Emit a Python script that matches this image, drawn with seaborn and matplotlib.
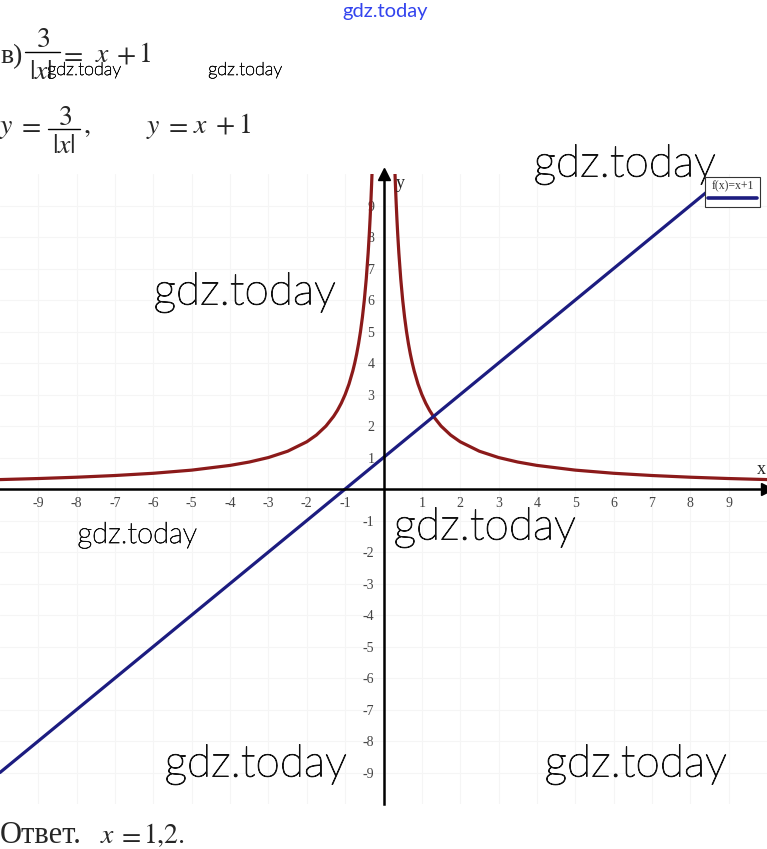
import matplotlib
matplotlib.use("Agg")
import matplotlib.pyplot as plt
import matplotlib.patheffects as pe
import seaborn as sns
import pandas as pd
from matplotlib.lines import Line2D

# ---- data ----
hyp_left_x = [-10, -9, -8, -7, -6, -5, -4, -3.5, -3, -2.5, -2, -1.75, -1.5, -1.3, -1.2, -1.1, -1.0,
              -0.9, -0.8, -0.75, -0.7, -0.65, -0.6, -0.55, -0.5, -0.45, -0.4, -0.37, -0.35, -0.33, -0.31, -0.3]
hyp_left_y = [0.30, 0.333, 0.375, 0.429, 0.50, 0.60, 0.75, 0.857, 1.0, 1.2, 1.5, 1.714, 2.0, 2.308, 2.5, 2.727, 3.0,
              3.333, 3.75, 4.0, 4.286, 4.615, 5.0, 5.455, 6.0, 6.667, 7.5, 8.108, 8.571, 9.091, 9.677, 10.0]
hyp_right_x = [-v for v in hyp_left_x]
hyp_right_y = list(hyp_left_y)
line_x = [-10, 8.5]
line_y = [-9, 9.5]
ticks = [-9, -8, -7, -6, -5, -4, -3, -2, -1, 1, 2, 3, 4, 5, 6, 7, 8, 9]
tick_labels = [str(t) for t in ticks]
legend_label = "f(x)=x+1"
watermark = "gdz.today"

RED = "#8b1a1a"
BLUE = "#1c1c80"
W, H = 767, 849

sns.set_style("white")
plt.rcParams["mathtext.fontset"] = "stix"
plt.rcParams["font.family"] = ["Liberation Serif", "DejaVu Serif"]

fig = plt.figure(figsize=(W / 100, H / 100), dpi=100)
ax = fig.add_axes([0.0, 0.053, 1.0, 0.742])

df_l = pd.DataFrame({"x": hyp_left_x, "y": hyp_left_y})
df_r = pd.DataFrame({"x": hyp_right_x, "y": hyp_right_y})
df_line = pd.DataFrame({"x": line_x, "y": line_y})

sns.lineplot(data=df_l, x="x", y="y", ax=ax, color=RED, linewidth=2.3, zorder=3)
sns.lineplot(data=df_r, x="x", y="y", ax=ax, color=RED, linewidth=2.3, zorder=3)
sns.lineplot(data=df_line, x="x", y="y", ax=ax, color=BLUE, linewidth=2.3, zorder=4)
blue_handle = ax.get_lines()[-1]

ax.set_xlim(-10, 10)
ax.set_ylim(-10, 10)
ax.set_xlabel("")
ax.set_ylabel("")

for s in ["top", "right"]:
    ax.spines[s].set_visible(False)
ax.spines["left"].set_position(("data", 0))
ax.spines["bottom"].set_position(("data", 0))
for s in ["left", "bottom"]:
    ax.spines[s].set_linewidth(1.8)
    ax.spines[s].set_color("black")
    ax.spines[s].set_zorder(5)

ax.set_xticks(ticks)
ax.set_xticklabels(tick_labels)
ax.set_yticks(ticks)
ax.set_yticklabels(tick_labels)
ax.tick_params(axis="both", direction="inout", length=11, width=1.2, color="black",
               labelsize=10, labelcolor="#444444")
ax.tick_params(axis="x", pad=0)
ax.tick_params(axis="y", pad=1)

ax.grid(True, color="#f5f5f5", linewidth=0.8)
ax.set_axisbelow(True)

ax.plot(1, 0, ">", color="black", markersize=8, transform=ax.get_yaxis_transform(), clip_on=False, zorder=6)
ax.plot(0, 1, "^", color="black", markersize=8, transform=ax.get_xaxis_transform(), clip_on=False, zorder=6)
ax.text(9.85, 0.35, "x", fontsize=13, ha="center", va="bottom", color="#222222")
ax.text(0.45, 9.7, "y", fontsize=13, ha="center", va="center", color="#222222")

leg = ax.legend(handles=[blue_handle], labels=[""], title=legend_label, loc="upper right",
                bbox_to_anchor=(0.999, 1.004), fancybox=False, framealpha=1, edgecolor="#333333",
                handlelength=4.2, handletextpad=0, borderpad=0.25, title_fontsize=8.5,
                fontsize=8.5, labelspacing=0, handleheight=0.5)
leg.get_frame().set_linewidth(0.8)
leg.get_title().set_color("#333333")
for lh in leg.get_lines():
    lh.set_linewidth(2.6)


def T(px, py, s, size=20, ha="center", **kw):
    fig.text(px / W, 1 - py / H, s, fontsize=size, ha=ha, va="baseline", **kw)


def bar(x0, x1, py):
    fig.add_artist(Line2D([x0 / W, x1 / W], [1 - py / H, 1 - py / H], transform=fig.transFigure,
                          color="black", linewidth=1.0))


# line 1: в) 3/|x| = x + 1
T(0, 63, "в)", ha="left")
T(43, 47, r"$3$")
bar(25, 60, 52)
T(41, 79, r"$|x|$")
T(71, 62, r"$=$")
T(103, 62, r"$x$")
T(126, 62, r"$+$")
T(144, 62, r"$1$")

# line 2: y = 3/|x|,   y = x + 1
T(6, 133, r"$y$")
T(29, 133, r"$=$")
T(65, 125, r"$3$")
bar(48, 80, 129)
T(64, 153, r"$|x|$")
T(87, 133, r"$,$")
T(153, 133, r"$y$")
T(176, 133, r"$=$")
T(201, 133, r"$x$")
T(225, 133, r"$+$")
T(244, 133, r"$1$")

# answer
T(0, 843, "Ответ.", size=22, ha="left")
T(108, 843, r"$x$")
T(129, 843, r"$=$")
T(143, 843, r"$1{,}2.$", ha="left")

# watermarks
wm = dict(family=["Lato", "DejaVu Sans"], fontweight="light", color="#111111", ha="center", va="center")
for (px, py) in [(245, 293), (625, 165), (485, 528), (256, 765), (636, 765)]:
    t = fig.text(px / W, 1 - py / H, watermark, fontsize=32, **wm)
    t.set_path_effects([pe.withStroke(linewidth=0.7, foreground="#111111")])
t = fig.text(137 / W, 1 - 535 / H, watermark, fontsize=21, **wm)
t.set_path_effects([pe.withStroke(linewidth=0.5, foreground="#111111")])
for px in [84, 245]:
    t = fig.text(px / W, 1 - 70 / H, watermark, fontsize=13, **wm)
    t.set_path_effects([pe.withStroke(linewidth=0.4, foreground="#111111")])
fig.text(385 / W, 1 - 12 / H, watermark, fontsize=14.5, family=["Lato", "DejaVu Sans"],
         color="#3344ee", ha="center", va="center")

fig.savefig("out.png", dpi=100)
